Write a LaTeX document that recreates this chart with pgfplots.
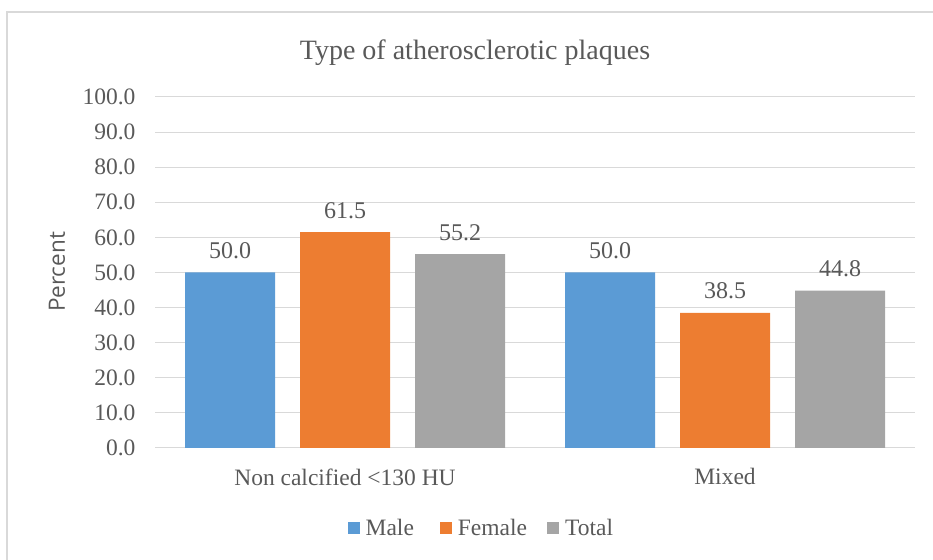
\documentclass[border=0pt]{standalone}
\usepackage{pgfplots}
\pgfplotsset{compat=1.18}
\usepackage{fontspec}
\setmainfont{Liberation Serif}
\newfontfamily\labelfont{Open Sans}
\definecolor{cmale}{HTML}{5B9BD5}
\definecolor{cfemale}{HTML}{ED7D31}
\definecolor{ctotal}{HTML}{A5A5A5}
\definecolor{txt}{HTML}{595959}
\definecolor{gridc}{HTML}{D9D9D9}
\begin{document}
\begin{tikzpicture}[x=1pt,y=1pt]
\useasboundingbox (0,0) rectangle (933,559);
\draw[gridc, line width=1.2pt] (7,-10) -- (7,547) -- (950,547);
\node[txt, font=\fontsize{28}{32}\selectfont] at (475,506) {Type of atherosclerotic plaques};
\begin{axis}[
  at={(155pt,111pt)}, anchor=south west,
  scale only axis, width=760pt, height=351pt,
  ybar=25pt, bar width=90pt,
  xmin=-0.5, xmax=1.5, ymin=0, ymax=100,
  xtick={0,1}, xticklabels={Non calcified <130 HU, Mixed},
  ytick={0,10,...,100},
  major tick length=0pt,
  ymajorgrids, grid style={gridc, line width=1pt},
  separate axis lines,
  axis x line*=bottom, axis y line*=left,
  x axis line style={gridc, line width=1pt, -},
  y axis line style={draw=none},
  tick label style={txt, font=\fontsize{23.5}{27}\selectfont},
  yticklabel style={xshift=-16pt},
  xticklabel style={yshift=-17pt},
  yticklabel={\pgfmathprintnumber[fixed,fixed zerofill,precision=1]{\tick}},
  /pgf/number format/assume math mode=true,
  ylabel={\labelfont Percent},
  every axis y label/.style={at={(-98pt,176pt)}, rotate=90, anchor=center, txt, font=\fontsize{22.5}{26}\selectfont},
  nodes near coords={\pgfmathprintnumber[fixed,fixed zerofill,precision=1,assume math mode=true]{\pgfplotspointmeta}},
  every node near coord/.append style={txt, font=\fontsize{24}{28}\selectfont, yshift=10pt},
  legend columns=3,
  legend style={draw=none, fill=none, at={(0.4294,-0.228)}, anchor=center,
    font=\fontsize{23.5}{27}\selectfont, text=txt,
    /tikz/column 2/.style={column sep=24pt},
    /tikz/column 4/.style={column sep=18pt},
    /tikz/every odd column/.append style={column sep=4pt}},
  legend image code/.code={\fill[#1, draw=none] (0pt,-6pt) rectangle (12pt,6pt);},
  clip=false,
]
\addplot[fill=cmale, draw=none] coordinates {(0,50.0) (1,50.0)};
\addplot[fill=cfemale, draw=none] coordinates {(0,61.5) (1,38.5)};
\addplot[fill=ctotal, draw=none] coordinates {(0,55.2) (1,44.8)};
\legend{Male, Female, Total}
\end{axis}
\end{tikzpicture}
\end{document}
